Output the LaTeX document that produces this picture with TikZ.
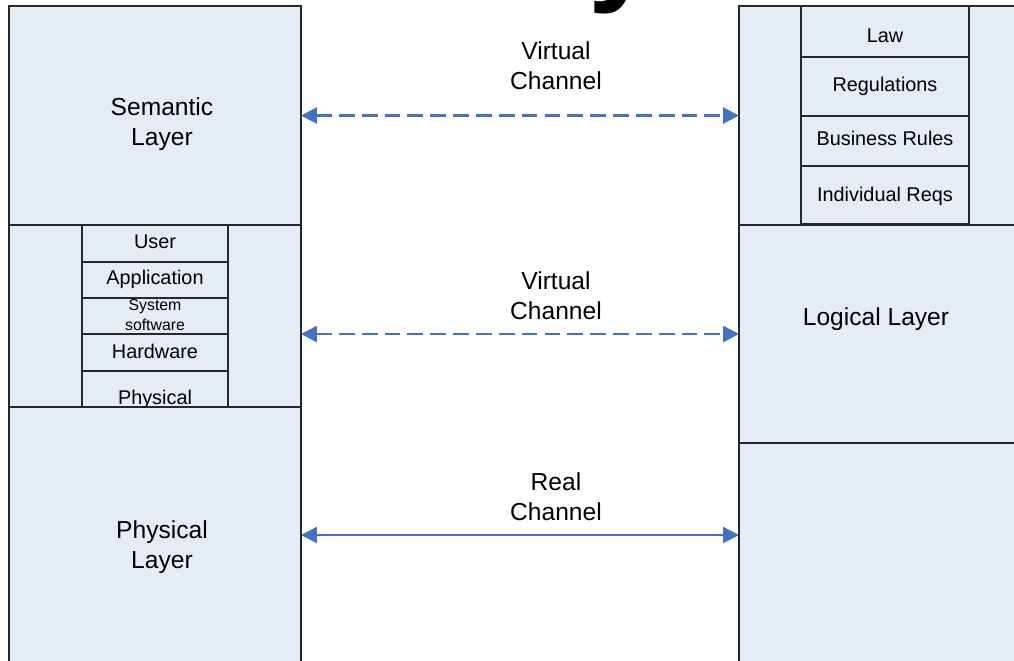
\documentclass[tikz,border=0pt]{standalone}
\usepackage{fontspec}
\setmainfont{Liberation Sans}
\usetikzlibrary{arrows.meta,fit}

\definecolor{layerfill}{RGB}{230,236,246}
\definecolor{chanblue}{RGB}{68,114,196}
\definecolor{edgegray}{RGB}{40,40,40}

\tikzset{
	layer/.style={draw=edgegray, line width=0.8pt, fill=layerfill, inner sep=0pt, outer sep=0pt},
	cell/.style={draw=edgegray, line width=0.8pt, inner sep=0pt, outer sep=0pt},
	big/.style={font=\fontsize{14}{17}\selectfont, align=center},
	item/.style={font=\fontsize{11.3}{13}\selectfont, text height=0.72em, text depth=0pt},
	small/.style={font=\fontsize{9}{11.5}\selectfont, align=center},
	chan/.style={chanblue, line width=1.2pt, {Triangle[length=9pt,width=9pt]}-{Triangle[length=9pt,width=9pt]}},
	virtual/.style={chan, line width=1.6pt, dash pattern=on 9pt off 4pt},
}

\begin{document}
\begin{tikzpicture}[x=0.02cm, y=-0.02cm]
		\useasboundingbox (0,0) rectangle (1014,660);
		% left column
		\node [layer, fit={(9,6) (301,225)}] (semantic) {};
		\node [layer, fit={(9,225) (301,407)}] (stack) {};
		\node [layer, fit={(9,407) (301,663)}] (physical) {};
		% right column
		\node [layer, fit={(739,6) (1016,225)}] (rules) {};
		\node [layer, fit={(739,225) (1016,443)}] (logical) {};
		\node [layer, fit={(739,443) (1016,663)}] (lower) {};
		% left stack
		\node [cell, fit={(82,225) (228,262)}] (user) {};
		\node [cell, fit={(82,262) (228,298)}] (app) {};
		\node [cell, fit={(82,298) (228,334)}] (syssw) {};
		\node [cell, fit={(82,334) (228,371)}] (hw) {};
		\node [cell, fit={(82,371) (228,407)}] (phys) {};
		\node [item] (userlbl) at (155,242) {User};
		\node [item] (applbl) at (155,278) {Application};
		\node [small] (sysswlbl) at (155,315) {System\\software};
		\node [item] (hwlbl) at (155,352) {Hardware};
		\node [item] (physlbl) at (155,398) {Physical};
		% right stack
		\node [cell, fit={(801,6) (969,57)}] (law) {};
		\node [cell, fit={(801,57) (969,116)}] (regs) {};
		\node [cell, fit={(801,116) (969,166)}] (business) {};
		\node [cell, fit={(801,166) (969,224)}] (indiv) {};
		\node [item] (lawlbl) at (885,36) {Law};
		\node [item] (regslbl) at (885,85) {Regulations};
		\node [item] (businesslbl) at (885,139) {Business Rules};
		\node [item] (indivlbl) at (885,195) {Individual Reqs};
		% layer names
		\node [big] (semlbl) at (162,124) {Semantic\\Layer};
		\node [big] (physicallbl) at (162,547) {Physical\\Layer};
		\node [big] (logicallbl) at (876,319) {Logical Layer};
		% channels
		\draw [virtual] (semantic.east) -- (rules.west);
		\draw [virtual] (logical.west -| stack.east) -- (logical.west);
		\draw [chan] (physical.east) -- (physical.east -| lower.west);
		\node [big] (chan1) at (556,66) {Virtual\\Channel};
		\node [big] (chan2) at (556,296) {Virtual\\Channel};
		\node [big] (chan3) at (556,497) {Real\\Channel};
		% cut-off title
		\node [font=\fontsize{70}{70}\selectfont\bfseries, anchor=base] (title) at (623,-12) {y};
	\end{tikzpicture}
\end{document}
